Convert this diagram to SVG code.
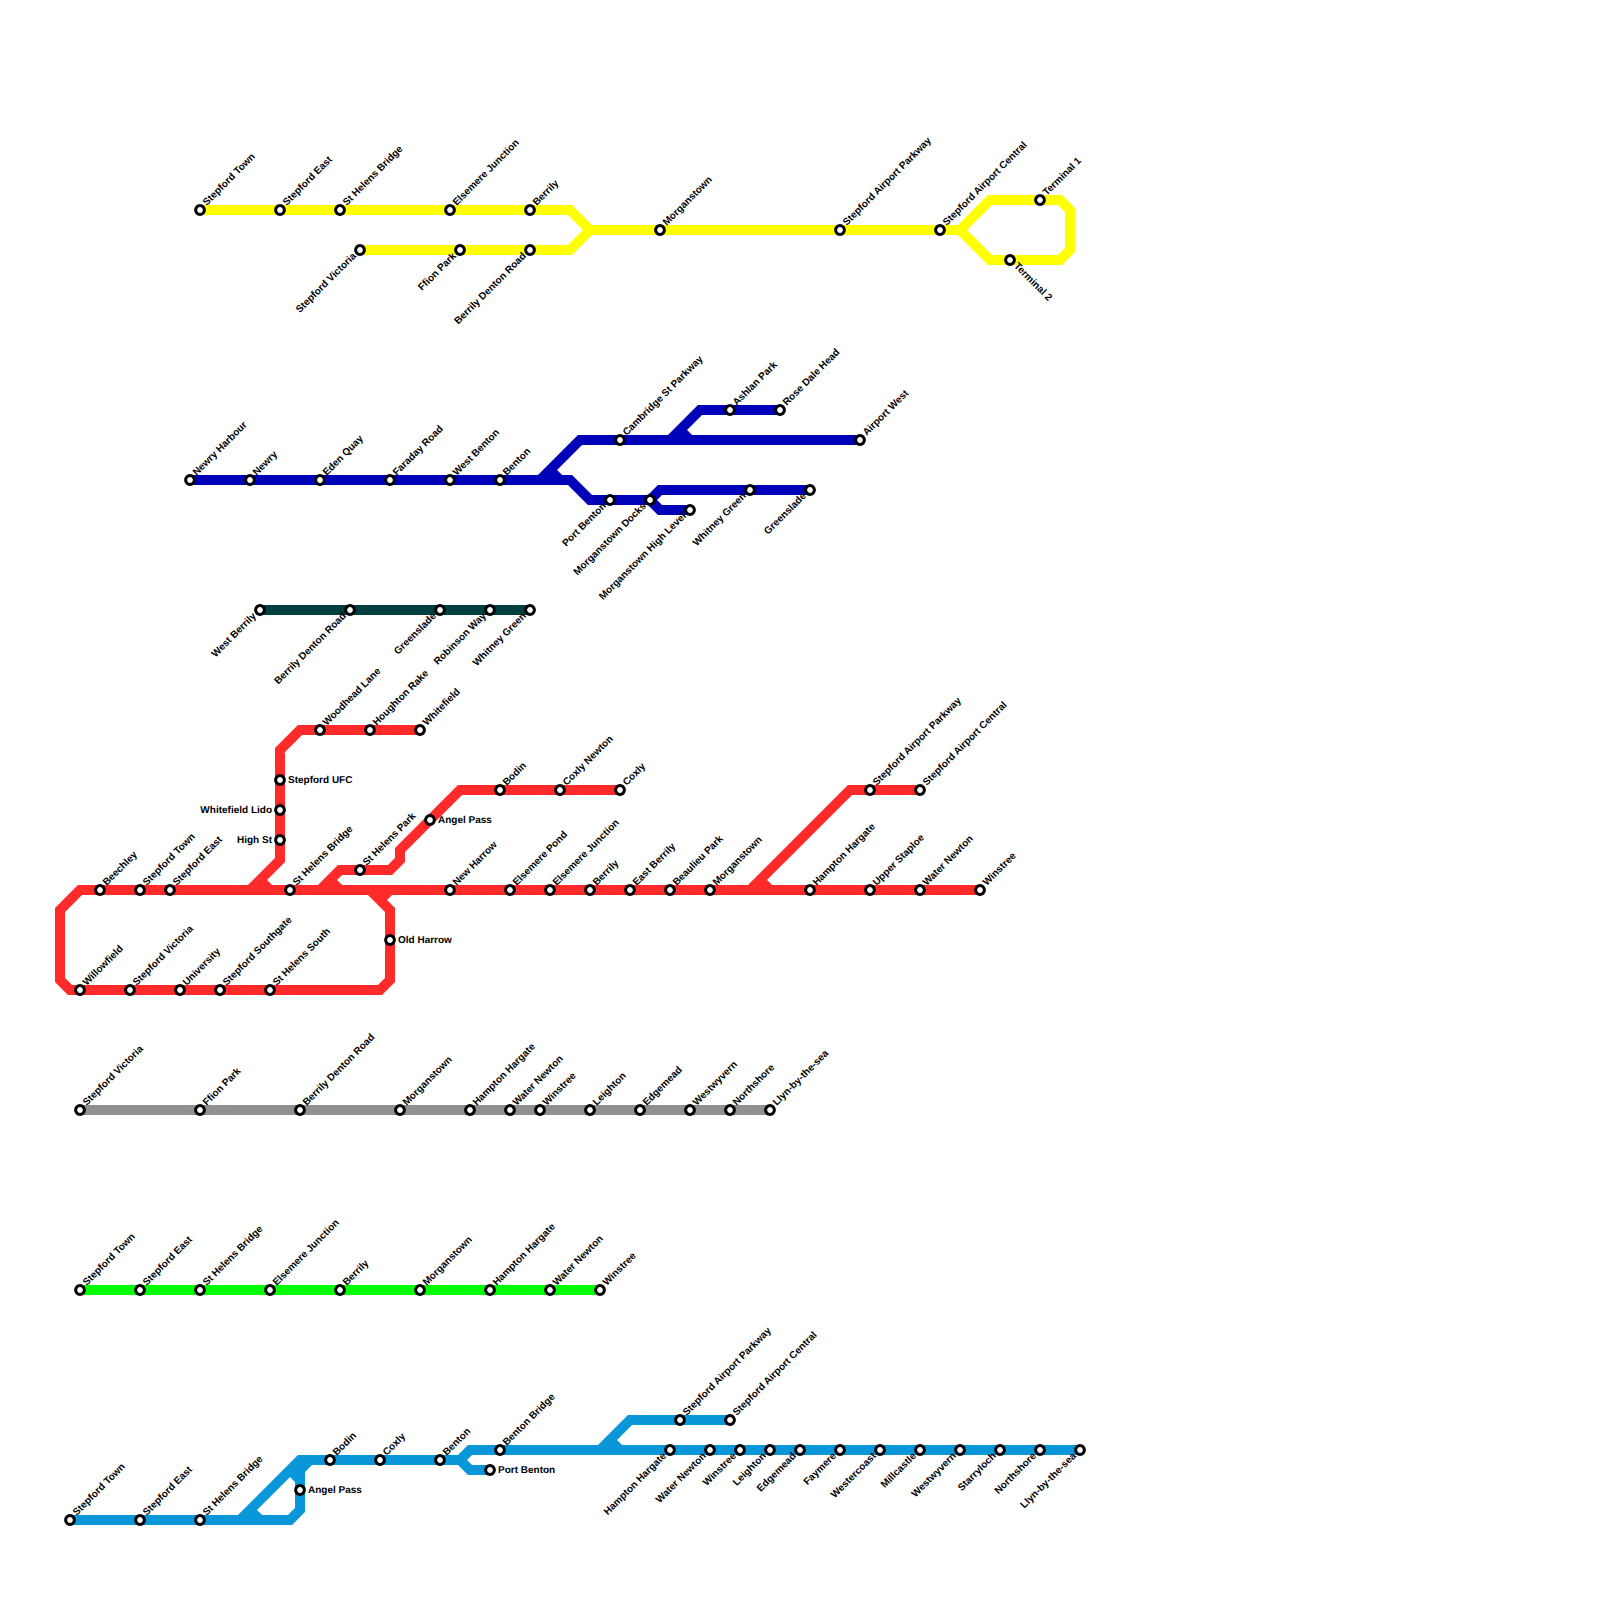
<svg xmlns="http://www.w3.org/2000/svg" width="1600" height="1600" viewBox="0 0 1600 1600">
<style>
.ln{fill:none;stroke-width:10;stroke-linejoin:miter;stroke-linecap:butt}
.y{stroke:#ffff00}.b{stroke:#0000b8}.t{stroke:#004040}.r{stroke:#ff2a2a}.g{stroke:#909090}.n{stroke:#00ff00}.c{stroke:#0a97d9}
circle{fill:#fff;stroke:#000;stroke-width:3}
text{font-family:"Liberation Sans",Arial,sans-serif;font-size:10px;font-weight:bold;fill:#000;text-rendering:geometricPrecision}
.ne{transform:rotate(-45deg) translate(7.5px,2px)}
.sw{text-anchor:end;transform:rotate(-45deg) translate(-7px,2.2px)}
.se{transform:rotate(45deg) translate(7px,2.2px)}
.rt{transform:translate(8px,3px)}
.lf{text-anchor:end;transform:translate(-8px,3px)}
</style>
<rect width="1600" height="1600" fill="#fff"/>
<g id="connectors">
<path class="ln y" d="M200 210H570L590 230H960L990 200H1060L1070 210V250L1060 260H990L960 230M360 250H570L590 230"/>
<path class="ln b" d="M190 480H570L590 500H650L660 490H810M650 500L660 510H690M540 480L580 440H860M550 470L560 480M670 440L700 410H780M680 430L690 440"/>
<path class="ln t" d="M260 610H530"/>
<path class="ln r" d="M980 890H80L60 910V980L70 990H380L390 980V910L370 890M380 900L390 890M250 890L280 860V750L300 730H420M260 880L270 890M320 890L340 870H390L400 860V850L460 790H620M330 880L340 890M750 890L850 790H920M760 880L770 890"/>
<path class="ln g" d="M80 1110H770"/>
<path class="ln n" d="M80 1290H600"/>
<path class="ln c" d="M70 1520H290L300 1510V1470L310 1460H460L470 1450H1080M460 1460L470 1470H490M240 1520L300 1460H310M250 1510L260 1520M290 1470L300 1480M600 1450L630 1420H730M610 1440L620 1450"/>
</g>
<g id="yellow-stations">
<g id="y1" transform="translate(200 210)"><circle r="4.4"/><text class="ne">Stepford Town</text></g>
<g id="y2" transform="translate(280 210)"><circle r="4.4"/><text class="ne">Stepford East</text></g>
<g id="y3" transform="translate(340 210)"><circle r="4.4"/><text class="ne">St Helens Bridge</text></g>
<g id="y4" transform="translate(450 210)"><circle r="4.4"/><text class="ne">Elsemere Junction</text></g>
<g id="y5" transform="translate(530 210)"><circle r="4.4"/><text class="ne">Berrily</text></g>
<g id="y6" transform="translate(360 250)"><circle r="4.4"/><text class="sw">Stepford Victoria</text></g>
<g id="y7" transform="translate(460 250)"><circle r="4.4"/><text class="sw">Ffion Park</text></g>
<g id="y8" transform="translate(530 250)"><circle r="4.4"/><text class="sw">Berrily Denton Road</text></g>
<g id="y9" transform="translate(660 230)"><circle r="4.4"/><text class="ne">Morganstown</text></g>
<g id="y10" transform="translate(840 230)"><circle r="4.4"/><text class="ne">Stepford Airport Parkway</text></g>
<g id="y11" transform="translate(940 230)"><circle r="4.4"/><text class="ne">Stepford Airport Central</text></g>
<g id="y12" transform="translate(1040 200)"><circle r="4.4"/><text class="ne">Terminal 1</text></g>
<g id="y13" transform="translate(1010 260)"><circle r="4.4"/><text class="se">Terminal 2</text></g>
</g>
<g id="blue-stations">
<g id="b1" transform="translate(190 480)"><circle r="4.4"/><text class="ne">Newry Harbour</text></g>
<g id="b2" transform="translate(250 480)"><circle r="4.4"/><text class="ne">Newry</text></g>
<g id="b3" transform="translate(320 480)"><circle r="4.4"/><text class="ne">Eden Quay</text></g>
<g id="b4" transform="translate(390 480)"><circle r="4.4"/><text class="ne">Faraday Road</text></g>
<g id="b5" transform="translate(450 480)"><circle r="4.4"/><text class="ne">West Benton</text></g>
<g id="b6" transform="translate(500 480)"><circle r="4.4"/><text class="ne">Benton</text></g>
<g id="b7" transform="translate(620 440)"><circle r="4.4"/><text class="ne">Cambridge St Parkway</text></g>
<g id="b8" transform="translate(730 410)"><circle r="4.4"/><text class="ne">Ashlan Park</text></g>
<g id="b9" transform="translate(780 410)"><circle r="4.4"/><text class="ne">Rose Dale Head</text></g>
<g id="b10" transform="translate(860 440)"><circle r="4.4"/><text class="ne">Airport West</text></g>
<g id="b11" transform="translate(610 500)"><circle r="4.4"/><text class="sw">Port Benton</text></g>
<g id="b12" transform="translate(650 500)"><circle r="4.4"/><text class="sw">Morganstown Docks</text></g>
<g id="b13" transform="translate(690 510)"><circle r="4.4"/><text class="sw">Morganstown High Level</text></g>
<g id="b14" transform="translate(750 490)"><circle r="4.4"/><text class="sw">Whitney Green</text></g>
<g id="b15" transform="translate(810 490)"><circle r="4.4"/><text class="sw">Greenslade</text></g>
</g>
<g id="teal-stations">
<g id="t1" transform="translate(260 610)"><circle r="4.4"/><text class="sw">West Berrily</text></g>
<g id="t2" transform="translate(350 610)"><circle r="4.4"/><text class="sw">Berrily Denton Road</text></g>
<g id="t3" transform="translate(440 610)"><circle r="4.4"/><text class="sw">Greenslade</text></g>
<g id="t4" transform="translate(490 610)"><circle r="4.4"/><text class="sw">Robinson Way</text></g>
<g id="t5" transform="translate(530 610)"><circle r="4.4"/><text class="sw">Whitney Green</text></g>
</g>
<g id="red-stations">
<g id="r1" transform="translate(100 890)"><circle r="4.4"/><text class="ne">Beechley</text></g>
<g id="r2" transform="translate(140 890)"><circle r="4.4"/><text class="ne">Stepford Town</text></g>
<g id="r3" transform="translate(170 890)"><circle r="4.4"/><text class="ne">Stepford East</text></g>
<g id="r4" transform="translate(290 890)"><circle r="4.4"/><text class="ne">St Helens Bridge</text></g>
<g id="r5" transform="translate(360 870)"><circle r="4.4"/><text class="ne">St Helens Park</text></g>
<g id="r6" transform="translate(450 890)"><circle r="4.4"/><text class="ne">New Harrow</text></g>
<g id="r7" transform="translate(510 890)"><circle r="4.4"/><text class="ne">Elsemere Pond</text></g>
<g id="r8" transform="translate(550 890)"><circle r="4.4"/><text class="ne">Elsemere Junction</text></g>
<g id="r9" transform="translate(590 890)"><circle r="4.4"/><text class="ne">Berrily</text></g>
<g id="r10" transform="translate(630 890)"><circle r="4.4"/><text class="ne">East Berrily</text></g>
<g id="r11" transform="translate(670 890)"><circle r="4.4"/><text class="ne">Beaulieu Park</text></g>
<g id="r12" transform="translate(710 890)"><circle r="4.4"/><text class="ne">Morganstown</text></g>
<g id="r13" transform="translate(810 890)"><circle r="4.4"/><text class="ne">Hampton Hargate</text></g>
<g id="r14" transform="translate(870 890)"><circle r="4.4"/><text class="ne">Upper Staploe</text></g>
<g id="r15" transform="translate(920 890)"><circle r="4.4"/><text class="ne">Water Newton</text></g>
<g id="r16" transform="translate(980 890)"><circle r="4.4"/><text class="ne">Winstree</text></g>
<g id="r17" transform="translate(870 790)"><circle r="4.4"/><text class="ne">Stepford Airport Parkway</text></g>
<g id="r18" transform="translate(920 790)"><circle r="4.4"/><text class="ne">Stepford Airport Central</text></g>
<g id="r19" transform="translate(500 790)"><circle r="4.4"/><text class="ne">Bodin</text></g>
<g id="r20" transform="translate(560 790)"><circle r="4.4"/><text class="ne">Coxly Newton</text></g>
<g id="r21" transform="translate(620 790)"><circle r="4.4"/><text class="ne">Coxly</text></g>
<g id="r22" transform="translate(430 820)"><circle r="4.4"/><text class="rt">Angel Pass</text></g>
<g id="r23" transform="translate(320 730)"><circle r="4.4"/><text class="ne">Woodhead Lane</text></g>
<g id="r24" transform="translate(370 730)"><circle r="4.4"/><text class="ne">Houghton Rake</text></g>
<g id="r25" transform="translate(420 730)"><circle r="4.4"/><text class="ne">Whitefield</text></g>
<g id="r26" transform="translate(280 780)"><circle r="4.4"/><text class="rt">Stepford UFC</text></g>
<g id="r27" transform="translate(280 810)"><circle r="4.4"/><text class="lf">Whitefield Lido</text></g>
<g id="r28" transform="translate(280 840)"><circle r="4.4"/><text class="lf">High St</text></g>
<g id="r29" transform="translate(390 940)"><circle r="4.4"/><text class="rt">Old Harrow</text></g>
<g id="r30" transform="translate(80 990)"><circle r="4.4"/><text class="ne">Willowfield</text></g>
<g id="r31" transform="translate(130 990)"><circle r="4.4"/><text class="ne">Stepford Victoria</text></g>
<g id="r32" transform="translate(180 990)"><circle r="4.4"/><text class="ne">University</text></g>
<g id="r33" transform="translate(220 990)"><circle r="4.4"/><text class="ne">Stepford Southgate</text></g>
<g id="r34" transform="translate(270 990)"><circle r="4.4"/><text class="ne">St Helens South</text></g>
</g>
<g id="grey-stations">
<g id="g1" transform="translate(80 1110)"><circle r="4.4"/><text class="ne">Stepford Victoria</text></g>
<g id="g2" transform="translate(200 1110)"><circle r="4.4"/><text class="ne">Ffion Park</text></g>
<g id="g3" transform="translate(300 1110)"><circle r="4.4"/><text class="ne">Berrily Denton Road</text></g>
<g id="g4" transform="translate(400 1110)"><circle r="4.4"/><text class="ne">Morganstown</text></g>
<g id="g5" transform="translate(470 1110)"><circle r="4.4"/><text class="ne">Hampton Hargate</text></g>
<g id="g6" transform="translate(510 1110)"><circle r="4.4"/><text class="ne">Water Newton</text></g>
<g id="g7" transform="translate(540 1110)"><circle r="4.4"/><text class="ne">Winstree</text></g>
<g id="g8" transform="translate(590 1110)"><circle r="4.4"/><text class="ne">Leighton</text></g>
<g id="g9" transform="translate(640 1110)"><circle r="4.4"/><text class="ne">Edgemead</text></g>
<g id="g10" transform="translate(690 1110)"><circle r="4.4"/><text class="ne">Westwyvern</text></g>
<g id="g11" transform="translate(730 1110)"><circle r="4.4"/><text class="ne">Northshore</text></g>
<g id="g12" transform="translate(770 1110)"><circle r="4.4"/><text class="ne">Llyn-by-the-sea</text></g>
</g>
<g id="green-stations">
<g id="n1" transform="translate(80 1290)"><circle r="4.4"/><text class="ne">Stepford Town</text></g>
<g id="n2" transform="translate(140 1290)"><circle r="4.4"/><text class="ne">Stepford East</text></g>
<g id="n3" transform="translate(200 1290)"><circle r="4.4"/><text class="ne">St Helens Bridge</text></g>
<g id="n4" transform="translate(270 1290)"><circle r="4.4"/><text class="ne">Elsemere Junction</text></g>
<g id="n5" transform="translate(340 1290)"><circle r="4.4"/><text class="ne">Berrily</text></g>
<g id="n6" transform="translate(420 1290)"><circle r="4.4"/><text class="ne">Morganstown</text></g>
<g id="n7" transform="translate(490 1290)"><circle r="4.4"/><text class="ne">Hampton Hargate</text></g>
<g id="n8" transform="translate(550 1290)"><circle r="4.4"/><text class="ne">Water Newton</text></g>
<g id="n9" transform="translate(600 1290)"><circle r="4.4"/><text class="ne">Winstree</text></g>
</g>
<g id="cyan-stations">
<g id="c1" transform="translate(70 1520)"><circle r="4.4"/><text class="ne">Stepford Town</text></g>
<g id="c2" transform="translate(140 1520)"><circle r="4.4"/><text class="ne">Stepford East</text></g>
<g id="c3" transform="translate(200 1520)"><circle r="4.4"/><text class="ne">St Helens Bridge</text></g>
<g id="c4" transform="translate(300 1490)"><circle r="4.4"/><text class="rt">Angel Pass</text></g>
<g id="c5" transform="translate(330 1460)"><circle r="4.4"/><text class="ne">Bodin</text></g>
<g id="c6" transform="translate(380 1460)"><circle r="4.4"/><text class="ne">Coxly</text></g>
<g id="c7" transform="translate(440 1460)"><circle r="4.4"/><text class="ne">Benton</text></g>
<g id="c8" transform="translate(500 1450)"><circle r="4.4"/><text class="ne">Benton Bridge</text></g>
<g id="c9" transform="translate(490 1470)"><circle r="4.4"/><text class="rt">Port Benton</text></g>
<g id="c10" transform="translate(680 1420)"><circle r="4.4"/><text class="ne">Stepford Airport Parkway</text></g>
<g id="c11" transform="translate(730 1420)"><circle r="4.4"/><text class="ne">Stepford Airport Central</text></g>
<g id="c12" transform="translate(670 1450)"><circle r="4.4"/><text class="sw">Hampton Hargate</text></g>
<g id="c13" transform="translate(710 1450)"><circle r="4.4"/><text class="sw">Water Newton</text></g>
<g id="c14" transform="translate(740 1450)"><circle r="4.4"/><text class="sw">Winstree</text></g>
<g id="c15" transform="translate(770 1450)"><circle r="4.4"/><text class="sw">Leighton</text></g>
<g id="c16" transform="translate(800 1450)"><circle r="4.4"/><text class="sw">Edgemead</text></g>
<g id="c17" transform="translate(840 1450)"><circle r="4.4"/><text class="sw">Faymere</text></g>
<g id="c18" transform="translate(880 1450)"><circle r="4.4"/><text class="sw">Westercoast</text></g>
<g id="c19" transform="translate(920 1450)"><circle r="4.4"/><text class="sw">Millcastle</text></g>
<g id="c20" transform="translate(960 1450)"><circle r="4.4"/><text class="sw">Westwyvern</text></g>
<g id="c21" transform="translate(1000 1450)"><circle r="4.4"/><text class="sw">Starryloch</text></g>
<g id="c22" transform="translate(1040 1450)"><circle r="4.4"/><text class="sw">Northshore</text></g>
<g id="c23" transform="translate(1080 1450)"><circle r="4.4"/><text class="sw">Llyn-by-the-sea</text></g>
</g>
</svg>
